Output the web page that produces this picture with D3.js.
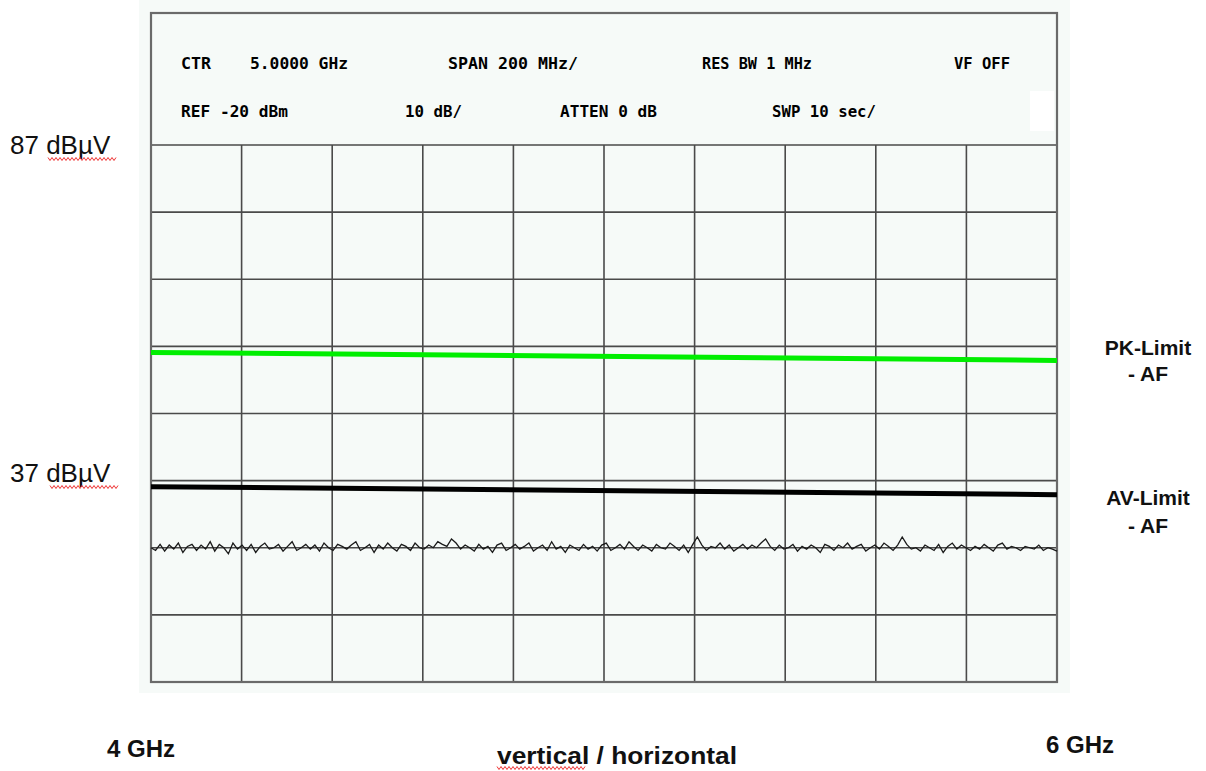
<!DOCTYPE html>
<html>
<head>
<meta charset="utf-8">
<script src="https://cdn.jsdelivr.net/npm/d3@7"></script>
<style>
  html, body { margin:0; padding:0; background:#fff; }
  svg { display:block; }
</style>
</head>
<body>
<svg id="chart" width="1206" height="771"></svg>
<script>
// span and level range of the analyzer screen
var freqDomain = [4, 6];          // GHz
var levelDomain = [7, 87];        // dBuV, 10 dB/div
var gridFreqs = [4, 4.2, 4.4, 4.6, 4.8, 5, 5.2, 5.4, 5.6, 5.8, 6];
var gridLevels = [7, 17, 27, 37, 47, 57, 67, 77, 87];

// limit lines (start / stop)
var limitFreqs = [4, 6];
var pkLimit = [56.1, 54.9];
var avLimit = [36.1, 34.9];

// measured trace, 200 points across the span
var traceLevels = [
  27.0,26.6,27.5,26.5,27.4,26.8,27.7,26.3,27.2,27.5,
  26.6,27.4,26.8,27.9,26.5,27.5,27.0,26.1,27.7,26.8,
  27.4,26.6,27.5,26.3,27.2,27.7,26.8,27.0,27.5,26.5,
  27.2,27.9,26.6,27.0,27.5,26.8,27.4,26.5,27.7,27.0,
  26.6,27.5,27.2,26.8,27.4,27.9,26.6,27.0,27.5,26.3,
  27.4,26.8,27.7,27.0,26.5,27.5,27.2,26.6,27.7,27.0,
  26.8,27.4,27.0,27.9,27.5,27.2,28.3,27.7,26.8,27.4,
  27.0,26.5,27.5,26.8,27.2,26.3,27.4,27.7,26.6,27.0,
  27.5,26.8,27.2,27.7,26.5,27.0,27.4,26.6,27.9,26.8,
  27.2,26.3,27.4,27.0,26.6,27.5,26.8,27.2,26.5,27.4,
  27.7,26.6,27.0,27.5,26.8,27.9,27.2,26.6,27.4,27.0,
  26.5,27.5,27.0,26.8,27.7,27.2,26.6,27.4,26.3,27.5,
  28.6,27.4,26.6,27.2,27.0,27.7,26.8,27.4,26.5,27.0,
  27.5,26.8,27.4,27.0,27.7,28.3,27.2,26.6,27.4,26.8,
  27.0,27.5,26.5,27.2,26.8,27.4,27.0,26.3,27.5,27.2,
  26.6,27.4,27.0,27.7,26.8,27.2,27.5,26.5,27.0,27.4,
  26.8,27.7,27.2,26.6,27.4,28.6,27.5,26.8,27.0,26.5,
  27.4,27.0,26.6,27.5,26.3,27.2,27.7,26.8,27.4,27.0,
  26.6,27.2,26.8,27.5,27.0,26.5,27.4,27.7,26.8,27.2,
  27.0,26.6,27.2,27.0,26.8,27.4,26.6,27.0,26.8,26.5
];

// screen annotation text
var headerRow1 = ["CTR", "5.0000 GHz", "SPAN 200 MHz/", "RES BW 1 MHz", "VF OFF"];
var headerRow2 = ["REF -20 dBm", "10 dB/", "ATTEN 0 dB", "SWP 10 sec/"];
var levelLabels = ["87 dB\u00b5V", "37 dB\u00b5V"];
var freqLabels = ["4 GHz", "6 GHz"];
var polLabel = "vertical / horizontal";

var svg = d3.select("#chart");

var x = d3.scaleLinear().domain(freqDomain).range([151, 1057]);
var y = d3.scaleLinear().domain(levelDomain).range([682, 145]);

// screen background
svg.append("rect")
  .attr("x", 139).attr("y", 0)
  .attr("width", 931).attr("height", 693)
  .attr("fill", "#f6faf8");

// header text rows
var hdr1X = [181, 250, 448, 702, 954], hdr1W = [30, 98, 130, 110, 56];
var hdr2X = [181, 405, 560, 772], hdr2W = [107, 57, 97, 104];
function header(rows, xs, ws, yy) {
  svg.append("g").selectAll("text")
    .data(rows)
    .enter().append("text")
    .attr("x", function(d, i) { return xs[i]; })
    .attr("y", yy)
    .attr("textLength", function(d, i) { return ws[i]; })
    .attr("lengthAdjust", "spacingAndGlyphs")
    .style("font-family", "'DejaVu Sans Mono', monospace")
    .style("font-weight", "bold")
    .style("font-size", "15px")
    .style("fill", "#000")
    .text(function(d) { return d; });
}
header(headerRow1, hdr1X, hdr1W, 69);
header(headerRow2, hdr2X, hdr2W, 117);

svg.append("rect")
  .attr("x", 1030).attr("y", 91)
  .attr("width", 24).attr("height", 40)
  .attr("fill", "#fff");

// graticule
var grid = svg.append("g")
  .attr("stroke", "#4a4a4a")
  .attr("stroke-width", 1.6);

grid.selectAll(".vline")
  .data(gridFreqs)
  .enter().append("line")
  .attr("class", "vline")
  .attr("x1", function(d) { return x(d); })
  .attr("x2", function(d) { return x(d); })
  .attr("y1", y(levelDomain[1]))
  .attr("y2", y(levelDomain[0]));

grid.selectAll(".hline")
  .data(gridLevels)
  .enter().append("line")
  .attr("class", "hline")
  .attr("x1", x(freqDomain[0]))
  .attr("x2", x(freqDomain[1]))
  .attr("y1", function(d) { return y(d); })
  .attr("y2", function(d) { return y(d); });

// outer frame incl. header
svg.append("rect")
  .attr("x", x(freqDomain[0])).attr("y", 13)
  .attr("width", x(freqDomain[1]) - x(freqDomain[0]))
  .attr("height", y(levelDomain[0]) - 13)
  .attr("fill", "none")
  .attr("stroke", "#6a6a6a")
  .attr("stroke-width", 2.2);

// limit lines
var line = d3.line()
  .x(function(d) { return x(d[0]); })
  .y(function(d) { return y(d[1]); });

svg.append("path")
  .datum(d3.zip(limitFreqs, pkLimit))
  .attr("d", line)
  .attr("fill", "none")
  .attr("stroke", "#00ee00")
  .attr("stroke-width", 5);

svg.append("path")
  .datum(d3.zip(limitFreqs, avLimit))
  .attr("d", line)
  .attr("fill", "none")
  .attr("stroke", "#000")
  .attr("stroke-width", 5);

// measured trace
var step = (freqDomain[1] - freqDomain[0]) / (traceLevels.length - 1);
svg.append("path")
  .datum(traceLevels.map(function(v, i) { return [freqDomain[0] + i * step, v]; }))
  .attr("d", line)
  .attr("fill", "none")
  .attr("stroke", "#1a1a1a")
  .attr("stroke-width", 1.3);

// level labels on the left
svg.selectAll(".lvl")
  .data(levelLabels)
  .enter().append("text")
  .attr("class", "lvl")
  .attr("x", 10)
  .attr("y", function(d, i) { return i === 0 ? 154 : 482; })
  .style("font-family", "'Liberation Sans', Arial, sans-serif")
  .style("font-size", "26px")
  .style("fill", "#111")
  .text(function(d) { return d; });

// red spell-check squiggles
function squiggle(x0, x1, yy) {
  var pts = [];
  for (var px = x0, k = 0; px <= x1; px += 2, k++) pts.push([px, yy + (k % 2 ? 1.5 : -1.5)]);
  svg.append("path")
    .attr("d", d3.line()(pts))
    .attr("fill", "none")
    .attr("stroke", "#e33")
    .attr("stroke-width", 1);
}
squiggle(48, 116, 159);
squiggle(50, 118, 487);
squiggle(497, 585, 768);

// limit names on the right
var rightLabels = [["PK-Limit", 355], ["- AF", 381], ["AV-Limit", 505], ["- AF", 533]];
svg.selectAll(".lim")
  .data(rightLabels)
  .enter().append("text")
  .attr("class", "lim")
  .attr("x", 1148)
  .attr("y", function(d) { return d[1]; })
  .attr("text-anchor", "middle")
  .style("font-family", "'Liberation Sans', Arial, sans-serif")
  .style("font-weight", "bold")
  .style("font-size", "21px")
  .style("fill", "#111")
  .text(function(d) { return d[0]; });

// frequency labels under the screen
svg.selectAll(".frq")
  .data(freqLabels)
  .enter().append("text")
  .attr("class", "frq")
  .attr("x", function(d, i) { return i === 0 ? 107 : 1046; })
  .attr("y", function(d, i) { return i === 0 ? 757 : 753; })
  .style("font-family", "'Liberation Sans', Arial, sans-serif")
  .style("font-weight", "bold")
  .style("font-size", "24px")
  .style("fill", "#111")
  .text(function(d) { return d; });

svg.append("text")
  .attr("x", 497)
  .attr("y", 764)
  .attr("textLength", 240)
  .attr("lengthAdjust", "spacingAndGlyphs")
  .style("font-family", "'Liberation Sans', Arial, sans-serif")
  .style("font-weight", "bold")
  .style("font-size", "24px")
  .style("fill", "#111")
  .text(polLabel);
</script>
</body>
</html>
